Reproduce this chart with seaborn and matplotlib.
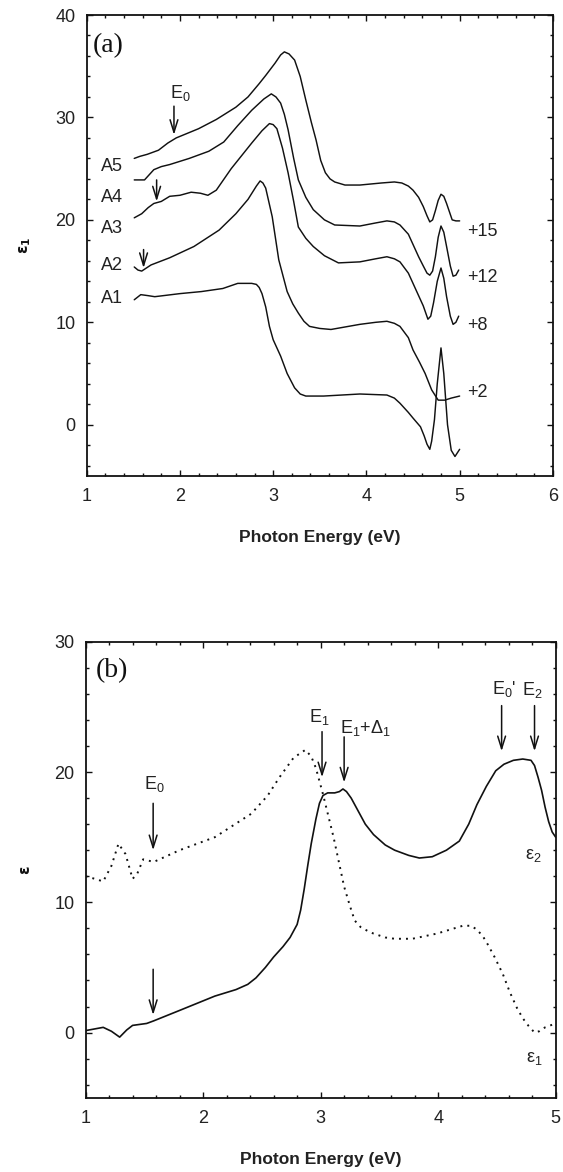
import matplotlib
matplotlib.use("Agg")
import matplotlib.pyplot as plt
from matplotlib.ticker import MultipleLocator
import seaborn as sns
import pandas as pd

# ---------------- data: panel (a) ----------------
a5_x = [1.51, 1.57, 1.65, 1.77, 1.87, 1.96, 2.20, 2.39, 2.60, 2.73, 2.85, 2.92, 3.02, 3.08, 3.12, 3.17, 3.23, 3.29, 3.35, 3.41, 3.46, 3.51,
        3.56, 3.61, 3.66, 3.77, 3.93, 4.16, 4.30, 4.38, 4.45, 4.50, 4.56, 4.61, 4.65, 4.68, 4.71, 4.74, 4.77, 4.80, 4.83, 4.86, 4.89,
        4.92, 4.96, 5.0]
a5_y = [26.0, 26.2, 26.4, 26.8, 27.5, 28.0, 28.9, 29.8, 31.0, 32.0, 33.3, 34.1, 35.3, 36.1, 36.4, 36.2, 35.6, 34.0, 31.7, 29.5, 27.8, 25.8,
        24.6, 24.0, 23.7, 23.4, 23.4, 23.6, 23.7, 23.6, 23.3, 22.9, 22.2, 21.3, 20.4, 19.8, 20.0, 20.9, 21.9, 22.5, 22.3, 21.6, 20.8,
        20.0, 19.9, 19.9]

a4_x = [1.51, 1.62, 1.67, 1.72, 1.80, 1.89, 2.10, 2.31, 2.47, 2.62, 2.77, 2.90, 2.98, 3.03, 3.08, 3.12, 3.16, 3.22, 3.27, 3.35, 3.43,
        3.55, 3.66, 3.93, 4.10, 4.22, 4.30, 4.36, 4.45, 4.50, 4.56, 4.61, 4.65, 4.68, 4.71, 4.74, 4.77, 4.80, 4.83, 4.86, 4.90,
        4.93, 4.96, 4.99]
a4_y = [23.9, 23.9, 24.4, 24.9, 25.2, 25.4, 26.0, 26.7, 27.6, 29.2, 30.7, 31.8, 32.3, 32.0, 31.4, 30.3, 28.8, 26.0, 23.9, 22.2, 21.0,
        20.0, 19.5, 19.4, 19.7, 19.9, 19.8, 19.5, 18.6, 17.6, 16.4, 15.5, 14.8, 14.6, 15.0, 16.4, 18.3, 19.4, 18.8, 17.4, 15.5,
        14.5, 14.6, 15.1]

a3_x = [1.51, 1.59, 1.66, 1.72, 1.80, 1.89, 2.00, 2.12, 2.22, 2.30, 2.39, 2.55, 2.77, 2.88, 2.96, 3.00, 3.04, 3.10, 3.16, 3.22, 3.27,
        3.35, 3.43, 3.55, 3.70, 3.93, 4.10, 4.22, 4.30, 4.36, 4.45, 4.50, 4.56, 4.61, 4.66, 4.69, 4.72, 4.76, 4.80, 4.83, 4.86,
        4.90, 4.93, 4.96, 4.99]
a3_y = [20.2, 20.6, 21.2, 21.6, 21.8, 22.3, 22.4, 22.7, 22.6, 22.4, 22.9, 25.0, 27.5, 28.7, 29.4, 29.3, 28.9, 27.0, 24.6, 21.8, 19.3,
        18.2, 17.4, 16.5, 15.8, 15.9, 16.2, 16.4, 16.2, 15.9, 14.8, 13.8, 12.6, 11.6, 10.3, 10.6, 11.9, 14.0, 15.3, 14.3, 12.5,
        10.6, 9.8, 10.0, 10.6]

a2_x = [1.51, 1.55, 1.59, 1.64, 1.69, 1.89, 2.15, 2.42, 2.60, 2.73, 2.82, 2.86, 2.89, 2.92, 2.99, 3.06, 3.15, 3.21, 3.27, 3.33, 3.39,
        3.50, 3.62, 3.93, 4.10, 4.22, 4.30, 4.36, 4.45, 4.50, 4.57, 4.63, 4.70, 4.77, 4.84, 4.91, 5.0]
a2_y = [15.4, 15.1, 15.0, 15.3, 15.6, 16.3, 17.4, 19.0, 20.6, 22.0, 23.3, 23.8, 23.6, 23.1, 20.3, 16.1, 13.0, 11.8, 10.9, 10.1, 9.6,
        9.4, 9.3, 9.8, 10.0, 10.1, 9.9, 9.6, 8.5, 7.3, 6.1, 5.0, 3.4, 2.4, 2.4, 2.6, 2.8]

a1_x = [1.51, 1.58, 1.66, 1.73, 2.0, 2.23, 2.46, 2.62, 2.77, 2.82, 2.85, 2.88, 2.92, 2.96, 3.00, 3.08, 3.15, 3.23, 3.29, 3.35, 3.54,
        3.93, 4.22, 4.30, 4.36, 4.45, 4.50, 4.58, 4.62, 4.65, 4.68, 4.70, 4.73, 4.76, 4.80, 4.83, 4.87, 4.91, 4.95, 5.0]
a1_y = [12.2, 12.7, 12.6, 12.5, 12.8, 13.0, 13.3, 13.8, 13.8, 13.7, 13.4, 12.8, 11.5, 9.6, 8.3, 6.7, 5.0, 3.6, 3.0, 2.8, 2.8,
        3.0, 2.9, 2.6, 2.1, 1.2, 0.65, -0.2, -1.1, -1.9, -2.4, -1.6, 0.5, 4.0, 7.5, 5.0, 0.0, -2.5, -3.1, -2.4]

a_names = ["A1", "A2", "A3", "A4", "A5"]
a_name_y = [12.3, 15.5, 19.2, 22.2, 25.2]
offset_labels = ["+2", "+8", "+12", "+15"]
offset_label_y = [3.1, 9.7, 14.4, 18.9]

# ---------------- data: panel (b) ----------------
e1_x = [1.0, 1.08, 1.15, 1.22, 1.28, 1.34, 1.40, 1.44, 1.49, 1.58, 1.80, 2.10, 2.41, 2.55, 2.65, 2.77, 2.87, 2.92, 2.96, 3.02, 3.11,
        3.20, 3.25, 3.29, 3.34, 3.40, 3.45, 3.55, 3.63, 3.78, 3.99, 4.10, 4.21, 4.28, 4.33, 4.38, 4.42, 4.48, 4.55, 4.61, 4.67,
        4.72, 4.77, 4.82, 4.86, 4.91, 5.0]
e1_y = [12.0, 11.8, 11.6, 12.8, 14.5, 13.7, 11.8, 12.2, 13.3, 13.1, 14.0, 15.0, 16.8, 18.2, 19.6, 21.1, 21.7, 21.2, 20.3, 18.3, 15.0,
        11.2, 9.7, 8.6, 8.1, 7.8, 7.6, 7.3, 7.2, 7.2, 7.6, 7.9, 8.2, 8.2, 7.9, 7.4, 6.8, 5.8, 4.5, 3.1, 1.9,
        1.1, 0.5, 0.0, 0.1, 0.4, 0.7]

e2_x = [1.0, 1.15, 1.22, 1.29, 1.35, 1.40, 1.52, 1.58, 1.80, 2.10, 2.28, 2.38, 2.45, 2.53, 2.60, 2.68, 2.74, 2.80, 2.83, 2.86, 2.89, 2.92,
        2.96, 2.99, 3.02, 3.06, 3.12, 3.16, 3.19, 3.22, 3.26, 3.32, 3.38, 3.45, 3.55, 3.63, 3.75, 3.84, 3.95, 4.07, 4.18, 4.26,
        4.33, 4.41, 4.49, 4.56, 4.64, 4.72, 4.79, 4.82, 4.85, 4.88, 4.91, 4.94, 4.97, 5.0]
e2_y = [0.15, 0.4, 0.1, -0.35, 0.2, 0.55, 0.7, 0.9, 1.7, 2.8, 3.3, 3.7, 4.2, 5.0, 5.8, 6.6, 7.3, 8.3, 9.4, 11.0, 12.8, 14.5,
        16.4, 17.6, 18.2, 18.4, 18.4, 18.5, 18.7, 18.5, 18.0, 17.0, 16.0, 15.2, 14.4, 14.0, 13.6, 13.4, 13.5, 14.0, 14.7, 16.0,
        17.5, 18.9, 20.1, 20.6, 20.9, 21.0, 20.9, 20.5, 19.6, 18.6, 17.3, 16.2, 15.4, 15.0]

# ---------------- style ----------------
sns.set_style("ticks")
plt.rcParams["font.family"] = ["Liberation Sans", "DejaVu Sans"]
plt.rcParams["mathtext.fontset"] = "custom"
plt.rcParams["mathtext.rm"] = "Liberation Sans"
plt.rcParams["mathtext.it"] = "Liberation Sans:italic"
plt.rcParams["mathtext.bf"] = "Liberation Sans:bold"

INK = "#111111"
TXT = "#222222"
FS = 13

fig = plt.figure(figsize=(5.63, 11.72), dpi=100)
ax1 = fig.add_axes([0.154, 0.5939, 0.828, 0.3933])
ax2 = fig.add_axes([0.152, 0.0634, 0.835, 0.389])


def style_axes(ax):
    for s in ax.spines.values():
        s.set_linewidth(1.3)
        s.set_color(INK)
    ax.tick_params(which="both", direction="in", top=True, right=True, colors=INK,
                   labelcolor=TXT, labelsize=FS, width=1.0)
    ax.tick_params(which="major", length=4)
    ax.tick_params(which="minor", length=2.5)
    ax.tick_params(axis="x", which="major", pad=9)
    ax.tick_params(axis="y", which="major", pad=8)


def arrow(ax, x, top, tip):
    ax.annotate("", xy=(x, tip), xytext=(x, top),
                arrowprops=dict(arrowstyle="->,head_length=0.9,head_width=0.28",
                                lw=1.1, color=INK, mutation_scale=10, shrinkA=0, shrinkB=0))


# ---------------- panel (a) ----------------
for xs, ys in [(a1_x, a1_y), (a2_x, a2_y), (a3_x, a3_y), (a4_x, a4_y), (a5_x, a5_y)]:
    sns.lineplot(data=pd.DataFrame({"E": xs, "v": ys}), x="E", y="v", ax=ax1,
                 color=INK, lw=1.05, estimator=None, sort=False)

ax1.set_xlim(1, 6)
ax1.set_ylim(-5, 40)
ax1.xaxis.set_major_locator(MultipleLocator(1))
ax1.xaxis.set_minor_locator(MultipleLocator(0.2))
ax1.yaxis.set_major_locator(MultipleLocator(10))
ax1.yaxis.set_minor_locator(MultipleLocator(2))
style_axes(ax1)
ax1.set_xlabel("Photon Energy (eV)", fontsize=12.5, fontweight="bold", color=TXT, labelpad=18)
ax1.set_ylabel("ε$_\\mathregular{1}$", fontsize=11, fontweight="bold", color=INK, labelpad=16,
               family=["DejaVu Sans"])

ax1.text(1.07, 37.0, "(a)", family=["Liberation Serif", "DejaVu Serif"], fontsize=20,
         ha="left", va="center", color=INK)
for name, yy in zip(a_names, a_name_y):
    ax1.text(1.39, yy, name, fontsize=FS, ha="right", va="center", color=TXT)
for lab, yy in zip(offset_labels, offset_label_y):
    ax1.text(5.08, yy, lab, fontsize=FS, ha="left", va="center", color=TXT)

ax1.text(2.0, 32.4, "E$_\\mathregular{0}$", fontsize=FS, ha="center", va="center", color=TXT)
arrow(ax1, 1.936, 31.1, 28.3)
arrow(ax1, 1.75, 23.9, 21.8)
arrow(ax1, 1.61, 17.1, 15.3)

# ---------------- panel (b) ----------------
sns.lineplot(data=pd.DataFrame({"E": e2_x, "v": e2_y}), x="E", y="v", ax=ax2,
             color=INK, lw=1.2, estimator=None, sort=False)
sns.lineplot(data=pd.DataFrame({"E": e1_x, "v": e1_y}), x="E", y="v", ax=ax2,
             color=INK, lw=1.4, estimator=None, sort=False, linestyle=(0, (1, 2.6)))

ax2.set_xlim(1, 5)
ax2.set_ylim(-5, 30)
ax2.xaxis.set_major_locator(MultipleLocator(1))
ax2.xaxis.set_minor_locator(MultipleLocator(0.2))
ax2.yaxis.set_major_locator(MultipleLocator(10))
ax2.yaxis.set_minor_locator(MultipleLocator(2))
style_axes(ax2)
ax2.set_xlabel("Photon Energy (eV)", fontsize=12.5, fontweight="bold", color=TXT, labelpad=18)
ax2.set_ylabel("ε", fontsize=11, fontweight="bold", color=INK, labelpad=16, family=["DejaVu Sans"])

ax2.text(1.09, 27.8, "(b)", family=["Liberation Serif", "DejaVu Serif"], fontsize=20,
         ha="left", va="center", color=INK)

ax2.text(1.587, 19.1, "E$_\\mathregular{0}$", fontsize=FS, ha="center", va="center", color=TXT)
arrow(ax2, 1.575, 17.6, 14.0)
ax2.text(2.99, 24.2, "E$_\\mathregular{1}$", fontsize=FS, ha="center", va="center", color=TXT)
arrow(ax2, 3.012, 23.1, 19.6)
ax2.text(3.38, 23.4, "E$_\\mathregular{1}$+Δ$_\\mathregular{1}$", fontsize=FS, ha="center", va="center", color=TXT)
arrow(ax2, 3.20, 22.7, 19.2)
ax2.text(4.56, 26.4, "E$_\\mathregular{0}$'", fontsize=FS, ha="center", va="center", color=TXT)
arrow(ax2, 4.54, 25.1, 21.6)
ax2.text(4.80, 26.3, "E$_\\mathregular{2}$", fontsize=FS, ha="center", va="center", color=TXT)
arrow(ax2, 4.82, 25.1, 21.6)
arrow(ax2, 1.575, 4.86, 1.35)
ax2.text(4.81, 13.6, "ε$_\\mathregular{2}$", fontsize=FS, ha="center", va="center", color=TXT)
ax2.text(4.82, -2.0, "ε$_\\mathregular{1}$", fontsize=FS, ha="center", va="center", color=TXT)

fig.savefig("out.png", dpi=100)
